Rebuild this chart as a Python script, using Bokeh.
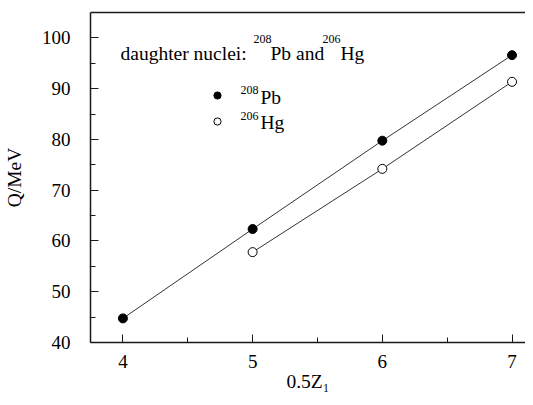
from bokeh.plotting import figure
from bokeh.models import Label, LinearAxis, Legend, LegendItem, FixedTicker, Range1d
from bokeh.embed import file_html
from bokeh.resources import INLINE

# ---- data ----
x_pb = [4, 5, 6, 7]
q_pb = [44.75, 62.35, 79.75, 96.6]
x_hg = [5, 6, 7]
q_hg = [57.8, 74.2, 91.35]
x_ticks = [4, 5, 6, 7]
x_minor = [4.5, 5.5, 6.5]
y_ticks = [40, 50, 60, 70, 80, 90, 100]
y_minor = [45, 55, 65, 75, 85, 95]

# ---- layout ----
W, H = 525, 397
BL, BT, BB, BR = 88, 12, 55, 0
X0 = 3.75
X1 = X0 + (W - BL - BR) / 130.3
Y0, Y1 = 40, 105
SERIF = "Liberation Serif"

p = figure(width=W, height=H, x_range=Range1d(X0, X1), y_range=Range1d(Y0, Y1),
           output_backend="svg", toolbar_location=None,
           min_border_left=BL, min_border_right=BR, min_border_top=BT, min_border_bottom=BB)
p.grid.visible = False
p.outline_line_color = None
p.background_fill_color = "white"
p.border_fill_color = "white"

for ax in (p.xaxis[0], p.yaxis[0]):
    ax.axis_line_width = 1.5
    ax.axis_line_color = "#1a1a1a"
    ax.major_tick_in = 8
    ax.major_tick_out = 0
    ax.minor_tick_in = 5
    ax.minor_tick_out = 0
    ax.major_tick_line_color = "#1a1a1a"
    ax.minor_tick_line_color = "#1a1a1a"
    ax.major_label_text_font = SERIF
    ax.major_label_text_font_size = "19px"
    ax.major_label_text_color = "black"
    ax.axis_label_text_font = SERIF
    ax.axis_label_text_font_size = "19.5px"
    ax.axis_label_text_font_style = "normal"
    ax.axis_label_text_color = "black"

p.xaxis[0].ticker = FixedTicker(ticks=x_ticks, minor_ticks=x_minor)
p.yaxis[0].ticker = FixedTicker(ticks=y_ticks, minor_ticks=y_minor)
p.xaxis[0].major_label_standoff = 12
p.yaxis[0].major_label_standoff = 20
p.xaxis[0].axis_label = "0.5Z\u2081"
p.xaxis[0].axis_label_standoff = 0
p.yaxis[0].axis_label = "Q/MeV"
p.yaxis[0].axis_label_standoff = 14

top = LinearAxis(ticker=FixedTicker(ticks=[]), major_label_text_font_size="0px",
                 major_tick_in=0, major_tick_out=0, minor_tick_in=0, minor_tick_out=0,
                 axis_line_width=1.5, axis_line_color="#1a1a1a", major_label_standoff=0)
p.add_layout(top, "above")

# ---- data glyphs ----
p.line(x_pb, q_pb, line_color="#333333", line_width=1)
p.line(x_hg, q_hg, line_color="#333333", line_width=1)
pb_r = p.scatter(x_pb, q_pb, size=9, fill_color="black", line_color="black")
hg_r = p.scatter(x_hg, q_hg, size=9, fill_color="white", line_color="black", line_width=1)

legend = Legend(items=[LegendItem(label=" ", renderers=[pb_r]),
                       LegendItem(label=" ", renderers=[hg_r])],
                location=(118, 212), padding=0, margin=0, border_line_color=None,
                background_fill_alpha=0, glyph_width=18, glyph_height=18,
                label_height=18, label_width=0, label_standoff=0, spacing=8,
                label_text_font_size="1px")
p.add_layout(legend)

# ---- text, placed in canvas pixels ----
def txt(s, px, py, size, style="normal"):
    p.add_layout(Label(x=px, y=py, x_units="canvas", y_units="canvas", text=s,
                       text_font=SERIF, text_font_size=f"{size}px",
                       text_font_style=style, text_color="black", text_align="left",
                       text_baseline="alphabetic"))

# annotation
txt("daughter nuclei:", 120, 53, 19.5)
txt("208", 253, 38, 12)
txt("Pb and", 270, 53, 19.5)
txt("206", 322, 38, 12)
txt("Hg", 340, 53, 19.5)
# legend labels
txt("208", 240, 89, 12)
txt("Pb", 260, 97, 19.5)
txt("206", 240, 115, 12)
txt("Hg", 260, 122, 19.5)

open("out.html", "w").write(file_html(p, INLINE))
